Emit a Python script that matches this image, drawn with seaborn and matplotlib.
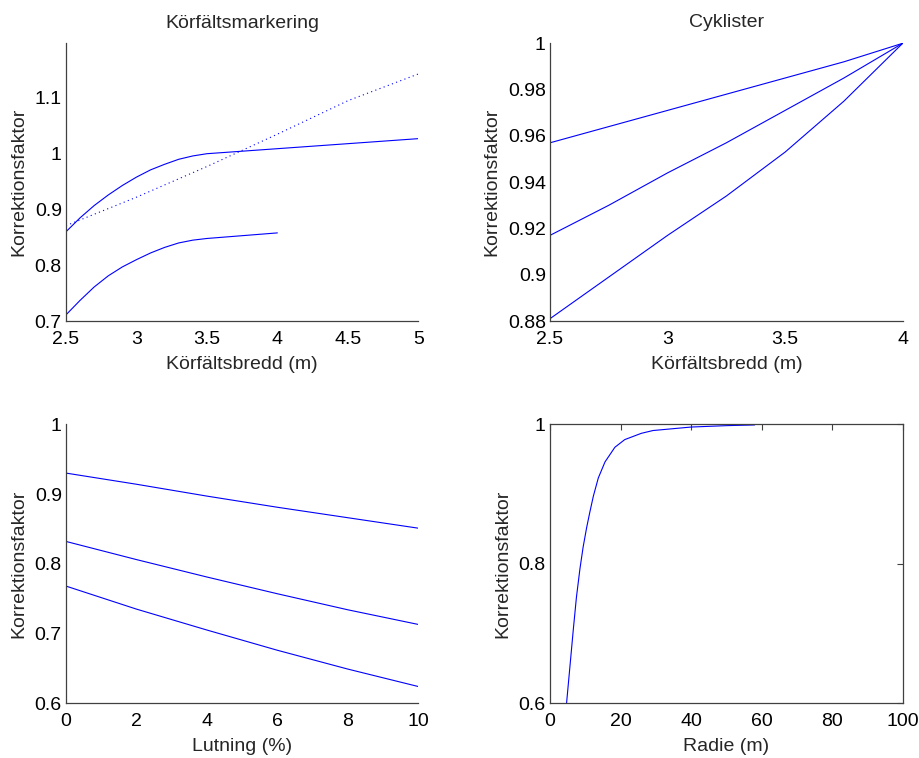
import matplotlib
matplotlib.use("Agg")
import matplotlib.pyplot as plt
import seaborn as sns

# ── Data ─────────────────────────────────────────────────────────────────
# Körfältsmarkering
bredd_a = [2.5, 2.6, 2.7, 2.8, 2.9, 3.0, 3.1, 3.2, 3.3, 3.4, 3.5, 4.0, 4.5, 5.0]
korr_a = [0.860, 0.885, 0.907, 0.926, 0.943, 0.958, 0.971, 0.981, 0.990, 0.996,
          1.000, 1.009, 1.018, 1.027]
bredd_b = [2.5, 2.6, 2.7, 2.8, 2.9, 3.0, 3.1, 3.2, 3.3, 3.4, 3.5, 4.0]
korr_b = [0.711, 0.737, 0.761, 0.781, 0.797, 0.810, 0.822, 0.832, 0.840, 0.845,
          0.848, 0.858]
bredd_dot = [2.5, 3.0, 3.5, 4.0, 4.5, 5.0]
korr_dot = [0.871, 0.922, 0.977, 1.035, 1.095, 1.143]

# Cyklister
bredd_cyk = [2.5, 2.75, 3.0, 3.25, 3.5, 3.75, 4.0]
cyk_1 = [0.957, 0.964, 0.971, 0.978, 0.985, 0.992, 1.000]
cyk_2 = [0.917, 0.930, 0.944, 0.957, 0.971, 0.985, 1.000]
cyk_3 = [0.881, 0.899, 0.917, 0.934, 0.953, 0.975, 1.000]

# Lutning
lutning = [0, 2, 4, 6, 8, 10]
lut_1 = [0.930, 0.914, 0.897, 0.881, 0.866, 0.851]
lut_2 = [0.832, 0.806, 0.781, 0.757, 0.734, 0.713]
lut_3 = [0.768, 0.735, 0.705, 0.676, 0.649, 0.624]

# Radie
radie = [4.7, 5.7, 6.6, 7.5, 8.5, 9.4, 10.4, 11.3, 12.3, 13.7, 15.6, 18.4,
         21.2, 25.9, 29.2, 40, 50, 58]
rad_k = [0.600, 0.655, 0.705, 0.752, 0.793, 0.824, 0.852, 0.874, 0.897, 0.923,
         0.946, 0.967, 0.978, 0.987, 0.991, 0.996, 0.998, 0.999]

YLABEL = "Korrektionsfaktor"
LINE = "#0000ff"
FS = 14

sns.set_style("white", {
    "xtick.direction": "in",
    "ytick.direction": "in",
    "axes.edgecolor": "#404040",
})
plt.rcParams.update({
    "font.family": ["Liberation Sans", "DejaVu Sans"],
    "font.size": FS,
    "xtick.major.size": 4.5,
    "ytick.major.size": 4.5,
    "xtick.major.width": 0.8,
    "ytick.major.width": 0.8,
    "xtick.color": "#404040",
    "ytick.color": "#404040",
    "xtick.labelcolor": "black",
    "ytick.labelcolor": "black",
    "xtick.major.pad": 7,
    "ytick.major.pad": 3,
    "axes.linewidth": 0.9,
})

fig = plt.figure(figsize=(9.2, 7.58), dpi=100)
ax_tl = fig.add_axes([0.0717, 0.5765, 0.3830, 0.3664])
ax_tr = fig.add_axes([0.5978, 0.5765, 0.3834, 0.3664])
ax_bl = fig.add_axes([0.0717, 0.0722, 0.3830, 0.3681])
ax_br = fig.add_axes([0.5978, 0.0722, 0.3834, 0.3681])


def draw(ax, x, y, ls="-"):
    sns.lineplot(x=x, y=y, ax=ax, color=LINE, linewidth=0.8, linestyle=ls,
                 sort=False, errorbar=None)


def finish(ax, xlabel, box=False):
    ax.set_xlabel(xlabel, fontsize=FS, labelpad=6)
    ax.set_ylabel(YLABEL, fontsize=FS, labelpad=5)
    ax.tick_params(labelsize=FS)
    if box:
        ax.tick_params(top=True, right=True)
    else:
        sns.despine(ax=ax)


# ── Körfältsmarkering ──
draw(ax_tl, bredd_a, korr_a)
draw(ax_tl, bredd_b, korr_b)
draw(ax_tl, bredd_dot, korr_dot, ls=(0, (1, 3)))
ax_tl.set_xlim(2.5, 5)
ax_tl.set_ylim(0.7, 1.198)
ax_tl.set_xticks([2.5, 3, 3.5, 4, 4.5, 5])
ax_tl.set_xticklabels(["2.5", "3", "3.5", "4", "4.5", "5"])
ax_tl.set_yticks([0.7, 0.8, 0.9, 1.0, 1.1])
ax_tl.set_yticklabels(["0.7", "0.8", "0.9", "1", "1.1"])
ax_tl.set_title("Körfältsmarkering", fontsize=FS, pad=11)
finish(ax_tl, "Körfältsbredd (m)")

# ── Cyklister ──
for serie in (cyk_1, cyk_2, cyk_3):
    draw(ax_tr, bredd_cyk, serie)
ax_tr.set_xlim(2.5, 4)
ax_tr.set_ylim(0.88, 1.0)
ax_tr.set_xticks([2.5, 3, 3.5, 4])
ax_tr.set_xticklabels(["2.5", "3", "3.5", "4"])
ax_tr.set_yticks([0.88, 0.9, 0.92, 0.94, 0.96, 0.98, 1.0])
ax_tr.set_yticklabels(["0.88", "0.9", "0.92", "0.94", "0.96", "0.98", "1"])
ax_tr.set_title("Cyklister", fontsize=FS, pad=12)
finish(ax_tr, "Körfältsbredd (m)")

# ── Lutning ──
for serie in (lut_1, lut_2, lut_3):
    draw(ax_bl, lutning, serie)
ax_bl.set_xlim(0, 10)
ax_bl.set_ylim(0.6, 1.0)
ax_bl.set_xticks([0, 2, 4, 6, 8, 10])
ax_bl.set_yticks([0.6, 0.7, 0.8, 0.9, 1.0])
ax_bl.set_yticklabels(["0.6", "0.7", "0.8", "0.9", "1"])
finish(ax_bl, "Lutning (%)")

# ── Radie ──
draw(ax_br, radie, rad_k)
ax_br.set_xlim(0, 100)
ax_br.set_ylim(0.6, 1.0)
ax_br.set_xticks([0, 20, 40, 60, 80, 100])
ax_br.set_yticks([0.6, 0.8, 1.0])
ax_br.set_yticklabels(["0.6", "0.8", "1"])
finish(ax_br, "Radie (m)", box=True)

fig.savefig("out.png", dpi=100)
